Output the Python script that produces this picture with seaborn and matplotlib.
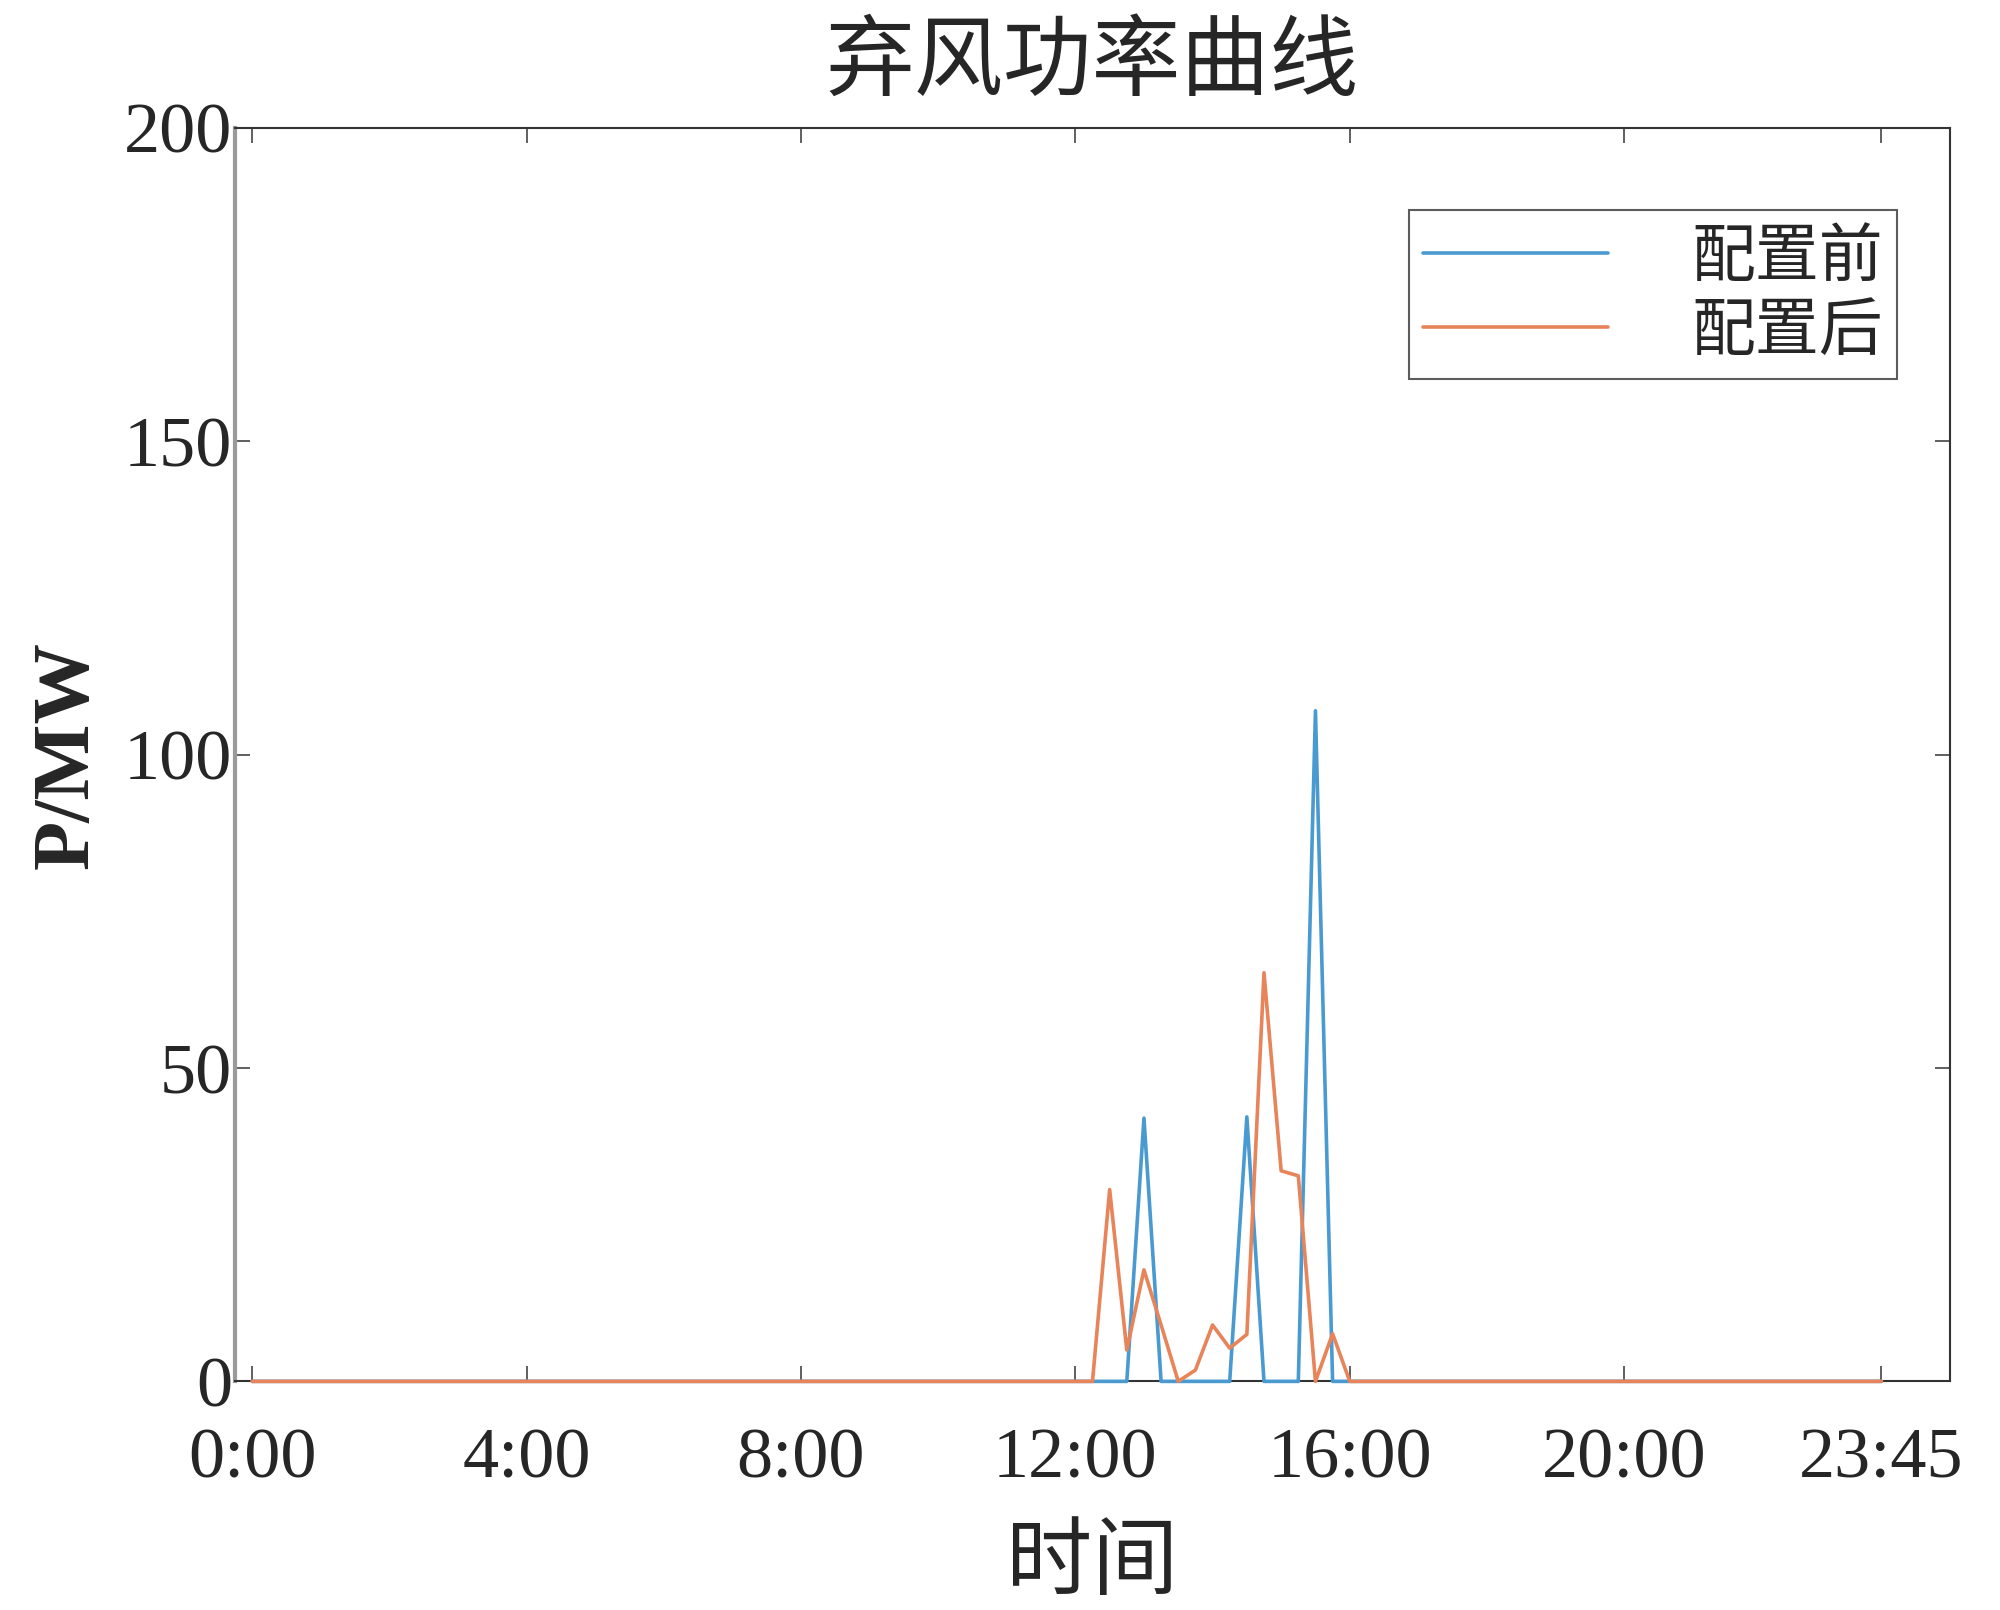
import pandas as pd
import matplotlib
matplotlib.use('Agg')
import matplotlib.pyplot as plt
import seaborn as sns

# 96 points, one per 15 min, x = 1 .. 96
before = [
    0, 0, 0, 0, 0, 0, 0, 0, 0, 0, 0, 0, 0, 0, 0, 0,
    0, 0, 0, 0, 0, 0, 0, 0, 0, 0, 0, 0, 0, 0, 0, 0,
    0, 0, 0, 0, 0, 0, 0, 0, 0, 0, 0, 0, 0, 0, 0, 0,
    0, 0, 0, 0, 42, 0, 0, 0, 0, 0, 42.2, 0, 0, 0, 107, 0,
    0, 0, 0, 0, 0, 0, 0, 0, 0, 0, 0, 0, 0, 0, 0, 0,
    0, 0, 0, 0, 0, 0, 0, 0, 0, 0, 0, 0, 0, 0, 0, 0,
]
after = [
    0, 0, 0, 0, 0, 0, 0, 0, 0, 0, 0, 0, 0, 0, 0, 0,
    0, 0, 0, 0, 0, 0, 0, 0, 0, 0, 0, 0, 0, 0, 0, 0,
    0, 0, 0, 0, 0, 0, 0, 0, 0, 0, 0, 0, 0, 0, 0, 0,
    0, 0, 30.6, 5.0, 17.8, 9.0, 0, 1.8, 9.0, 5.3, 7.5, 65.2, 33.6, 32.8, 0, 7.6,
    0, 0, 0, 0, 0, 0, 0, 0, 0, 0, 0, 0, 0, 0, 0, 0,
    0, 0, 0, 0, 0, 0, 0, 0, 0, 0, 0, 0, 0, 0, 0, 0,
]
labels = ['配置前', '配置后']
tick_pos = [1, 17, 33, 49, 65, 81, 96]
tick_labels = ['0:00', '4:00', '8:00', '12:00', '16:00', '20:00', '23:45']
y_ticks = [0, 50, 100, 150, 200]

n = len(before)
df = pd.DataFrame({
    'x': list(range(1, n + 1)) * 2,
    'P': before + after,
    'case': [labels[0]] * n + [labels[1]] * n,
})

sns.set_style('ticks')
plt.rcParams['font.family'] = ['Noto Sans CJK SC', 'DejaVu Sans']
plt.rcParams['xtick.direction'] = 'in'
plt.rcParams['ytick.direction'] = 'in'

fig = plt.figure(figsize=(20, 16.1), dpi=100)
ax = fig.add_axes([0.1175, 0.142, 0.8575, 0.7785])

sns.lineplot(data=df, x='x', y='P', hue='case', hue_order=labels,
             palette=['#4a9ad2', '#e8845a'], linewidth=2.6, ax=ax)
# let the zero line sit on top of the bottom spine, as in the original
for line in ax.get_lines():
    line.set_clip_on(False)
    line.set_zorder(3)

ax.set_xlim(0, 100)
ax.set_ylim(0, 200)
ax.set_xticks(tick_pos)
ax.set_xticklabels(tick_labels)
ax.set_yticks(y_ticks)
ax.tick_params(axis='both', which='major', length=11, width=1.2, color='#444444',
               top=True, right=True)
ax.tick_params(axis='x', pad=33)
ax.tick_params(axis='y', pad=2)
for lab in ax.get_xticklabels() + ax.get_yticklabels():
    lab.set_fontfamily('Liberation Serif')
    lab.set_fontsize(52)

for side in ['top', 'right', 'bottom']:
    ax.spines[side].set_color('#333333')
    ax.spines[side].set_linewidth(1.5)
ax.spines['left'].set_color('#9a9a9a')
ax.spines['left'].set_linewidth(3)

ax.set_title('弃风功率曲线', fontsize=64, pad=28)
ax.set_xlabel('时间', fontsize=62, labelpad=20)
ax.set_ylabel('P/MW', fontsize=58, fontfamily='Liberation Serif',
              fontweight='bold', labelpad=14)

leg = ax.legend(loc='upper right', bbox_to_anchor=(0.969, 0.9346), fontsize=46,
                frameon=True, fancybox=False, handlelength=2.9, handletextpad=1.3,
                borderpad=0.22, labelspacing=0.12, borderaxespad=0)
leg.get_frame().set_edgecolor('#333333')
leg.get_frame().set_linewidth(1.5)
for h in leg.get_lines():
    h.set_linewidth(2.6)

plt.savefig('out.png', dpi=100)
